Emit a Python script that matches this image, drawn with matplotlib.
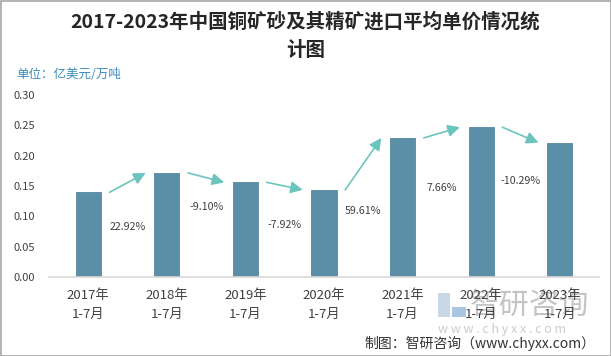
import matplotlib
matplotlib.use('Agg')
import matplotlib.pyplot as plt
from matplotlib.patches import Rectangle

plt.rcParams['font.family'] = ['Noto Sans CJK SC', 'DejaVu Sans']

categories = ['2017年\n1-7月', '2018年\n1-7月', '2019年\n1-7月', '2020年\n1-7月',
              '2021年\n1-7月', '2022年\n1-7月', '2023年\n1-7月']
values = [0.1396, 0.1716, 0.1560, 0.1437, 0.2293, 0.2469, 0.2215]
growth_labels = ['22.92%', '-9.10%', '-7.92%', '59.61%', '7.66%', '-10.29%']
label_heights = [0.082, 0.116, 0.085, 0.108, 0.147, 0.158]
yticks = [0.00, 0.05, 0.10, 0.15, 0.20, 0.25, 0.30]

W, H = 611, 356
fig = plt.figure(figsize=(W / 100, H / 100), dpi=100)
fig.patch.set_facecolor('white')

ax = fig.add_axes([49 / W, (H - 277) / H, 550 / W, 182 / H])
ax.patch.set_alpha(0)
bar_w = 0.32
x = list(range(len(values)))
ax.bar(x, values, width=bar_w, color='#5b8fa8', edgecolor='#56879f', linewidth=0.6, zorder=2)
ax.set_xlim(-0.5, 6.5)
ax.set_ylim(0, 0.30)
ax.set_yticks(yticks)
ax.set_yticklabels([f'{v:.2f}' for v in yticks])
ax.set_xticks(x)
ax.set_xticklabels(categories, linespacing=1.55)
ax.tick_params(axis='y', length=0, pad=10, labelsize=8, labelcolor='#404040')
ax.tick_params(axis='x', length=0, pad=9, labelsize=9.5, labelcolor='#404040')
for s in ['top', 'right', 'left']:
    ax.spines[s].set_visible(False)
ax.spines['bottom'].set_color('#d9d9d9')
ax.spines['bottom'].set_linewidth(1.2)

gap = 0.27
for i in range(len(values) - 1):
    ax.annotate('', xy=(i + 1 - gap, values[i + 1]), xytext=(i + gap, values[i]),
                arrowprops=dict(arrowstyle='-|>,head_length=0.6,head_width=0.3',
                                color='#6cc5bd', lw=1.2, mutation_scale=12,
                                shrinkA=0, shrinkB=0), zorder=3)
    ax.text(i + 0.5, label_heights[i], growth_labels[i], ha='center', va='center',
            fontsize=7.7, color='#404040')

# title
fig.text(0.5, 1 - 22 / H, '2017-2023年中国铜矿砂及其精矿进口平均单价情况统',
         ha='center', va='center', fontsize=14, fontweight='bold', color='#262626')
fig.text(0.5, 1 - 50 / H, '计图', ha='center', va='center', fontsize=14,
         fontweight='bold', color='#262626')
fig.text(16 / W, 1 - 74 / H, '单位：亿美元/万吨', ha='left', va='center', fontsize=9,
         color='#3b8cba')

# watermark
fig.text(470 / W, 1 - 305 / H, '智研咨询', ha='left', va='center', fontsize=21.5,
         color='#c4c4c4', zorder=-1)
fig.text(438 / W, 1 - 330 / H, 'w w w . c h y x x . c o m', ha='left', va='center',
         fontsize=9, color='#cccccc', zorder=-1)
fig.patches.append(Rectangle((438 / W, 1 - 317 / H), 12 / W, 24 / H, transform=fig.transFigure,
                             facecolor='#c9d7e6', edgecolor='none', zorder=-1))
fig.patches.append(Rectangle((452 / W, 1 - 317 / H), 14 / W, 10 / H, transform=fig.transFigure,
                             facecolor='#a9c6e2', edgecolor='none', zorder=-1))

# source
fig.text(595 / W, 1 - 343 / H, '制图：智研咨询（www.chyxx.com）', ha='right', va='center',
         fontsize=10, color='#333333')

# border
fig.patches.append(Rectangle((0.5 / W, 0.5 / H), (W - 1) / W, (H - 1) / H,
                             transform=fig.transFigure, fill=False,
                             edgecolor='#a6a6a6', linewidth=1.2))

fig.savefig('out.png', dpi=100)
